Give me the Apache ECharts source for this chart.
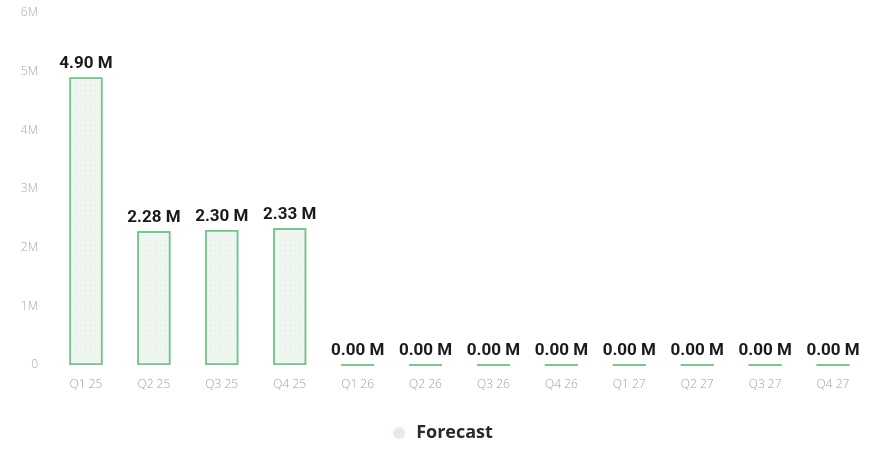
<!DOCTYPE html>
<html lang="en">
<head>
    <meta charset="UTF-8">
    <title>Forecast</title>
    <script type="text/javascript" src="https://cdn.jsdelivr.net/npm/echarts@6/dist/echarts.min.js"></script>
    <style>
        *{
            margin:0;
            padding:0;
        }
        #main {
            background-color: #fff;
        }
    </style>
</head>
<body>
<div id="main" style="width:886px;height:449px;"></div>
<script type="text/javascript">
    // data
    var categories = ['Q1 25', 'Q2 25', 'Q3 25', 'Q4 25', 'Q1 26', 'Q2 26', 'Q3 26', 'Q4 26', 'Q1 27', 'Q2 27', 'Q3 27', 'Q4 27'];
    var forecast = [4.90, 2.28, 2.30, 2.33, 0, 0, 0, 0, 0, 0, 0, 0];
    var yTicks = ['0', '1M', '2M', '3M', '4M', '5M', '6M'];

    var myChart = echarts.init(document.getElementById('main'));

    var option = {
        animation: false,
        grid: {
            left: 52,
            right: 19,
            top: 13,
            bottom: 84
        },
        legend: {
            bottom: 2,
            left: 'center',
            icon: 'circle',
            itemWidth: 12,
            itemHeight: 12,
            itemGap: 10,
            itemStyle: {
                color: '#e3eee6',
                borderWidth: 0
            },
            textStyle: {
                fontFamily: 'Open Sans',
                fontWeight: 'bold',
                fontSize: 18,
                color: '#2a2a2a',
                padding: [0, 0, 0, 6]
            },
            data: ['Forecast']
        },
        xAxis: {
            type: 'category',
            data: categories,
            axisLine: { show: false },
            axisTick: { show: false },
            axisLabel: {
                margin: 14,
                fontFamily: 'Open Sans',
                fontWeight: 300,
                fontSize: 12,
                color: '#a0a0a0'
            }
        },
        yAxis: {
            type: 'value',
            min: 0,
            max: 6,
            interval: 1,
            splitLine: { show: false },
            axisLabel: {
                margin: 14,
                fontFamily: 'Open Sans',
                fontWeight: 300,
                fontSize: 12,
                color: '#a8a8a8',
                formatter: function (v) { return yTicks[Math.round(v)]; }
            }
        },
        series: [
            {
                name: 'Forecast',
                type: 'bar',
                barWidth: 33,
                data: forecast,
                itemStyle: {
                    color: '#eef6ef',
                    borderColor: '#74c28c',
                    borderWidth: 1.5,
                    decal: {
                        symbol: 'rect',
                        symbolSize: 0.6,
                        color: 'rgba(110,140,115,0.45)',
                        dashArrayX: [1, 4],
                        dashArrayY: [1, 4],
                        rotation: 0
                    }
                },
                label: {
                    show: true,
                    position: 'top',
                    distance: 5,
                    fontFamily: 'Roboto',
                    fontWeight: 'bold',
                    fontSize: 17,
                    color: '#1a1a1a',
                    formatter: function (p) { return p.value.toFixed(2) + ' M'; }
                }
            }
        ]
    };

    myChart.setOption(option);
</script>
</body>
</html>
